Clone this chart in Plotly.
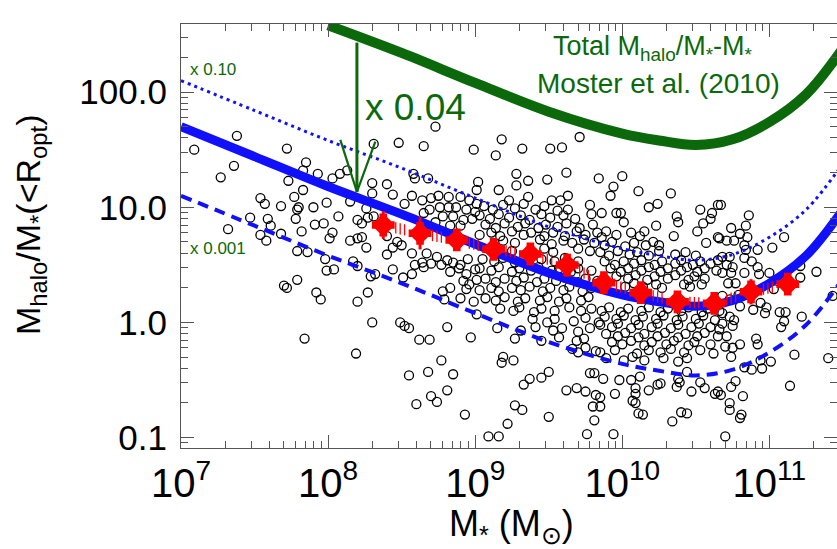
import plotly.graph_objects as go

# ---------------- data (log10 units) ----------------
# isolated galaxies: log10 M*  and log10 Mhalo/M*(<Ropt)
gal_logm = [
 7.09,7.38,7.27,7.36,7.72,7.85,7.83,7.93,8.03,8.08,8.13,7.73,7.83,7.77,7.54,7.57,7.68,7.80,7.79,7.90,
 7.99,8.15,7.47,7.59,7.61,7.32,7.78,7.82,7.91,7.97,8.07,8.20,7.54,7.58,7.68,8.03,8.01,8.15,8.20,7.79,
 7.86,7.98,8.17,8.20,7.99,8.04,7.79,7.70,7.72,7.92,7.95,8.20,7.84,8.19,
 8.73,8.31,8.48,8.65,8.99,8.58,8.59,8.68,8.30,8.40,8.30,8.44,8.57,8.52,9.02,9.01,8.26,8.27,8.23,
 8.64,8.70,8.75,8.82,8.90,8.96,9.01,8.76,8.82,8.87,8.94,9.00,8.69,8.78,8.85,8.92,8.98,8.65,8.73,8.90,8.83,8.31,
 8.23,8.26,8.40,8.47,8.44,8.50,8.40,8.57,8.67,8.74,8.81,8.70,8.77,8.85,8.90,8.95,8.64,8.65,8.83,8.89,
 8.57,8.59,8.44,8.29,8.32,8.51,8.94,9.00,8.92,8.96,9.01,8.78,8.83,8.94,8.79,8.90,8.99,9.01,8.27,8.30,
 8.49,8.52,8.55,8.81,8.62,8.69,8.97,8.77,8.55,8.68,8.85,8.70,8.81,8.74,8.60,8.93,
 9.18,9.32,9.14,9.51,9.59,9.71,9.28,9.28,9.36,9.49,9.62,9.84,9.16,9.36,9.52,9.58,9.63,9.63,9.23,
 9.19,9.26,9.18,9.33,9.37,9.45,9.50,9.62,9.69,9.75,9.78,9.81,9.82,9.27,9.32,9.50,9.80,9.81,9.22,9.09,9.16,9.76,
 10.00,9.94,9.92,10.11,10.33,10.18,10.24,9.96,9.99,10.01,9.86,10.37,10.38,10.53,10.61,10.60,10.65,10.55,
 10.23,10.35,10.51,10.57,10.25,10.65,
 9.87,9.98,10.06,10.12,10.38,10.44,9.95,10.09,10.09,10.07,10.09,10.18,10.24,10.26,10.37,10.39,10.53,10.56,
 10.63,10.65,10.47,9.85,9.85,10.11,10.14,10.40,10.44,10.34,9.94,
 10.67,10.86,10.74,10.84,10.80,10.85,11.10,10.66,10.71,10.76,10.83,10.84,10.92,11.02,10.68,10.73,10.83,
 10.88,10.71,10.75,10.92,10.68,10.74,10.83,10.93,11.00,11.21,11.21,11.32,10.72,10.77,11.03,11.43,10.68,
 10.73,10.79,10.94,10.98,10.97,10.89,10.80,11.07,11.11,11.10,11.08,11.22,10.68,10.73,10.76,10.68,10.75,
 10.66,10.71,10.70,10.75,10.80,10.74,10.91,10.92,11.17,11.40,11.01,10.94,10.95,10.83,10.88,11.14,10.77,
 10.74,10.67,10.82,10.73,10.73,10.81,10.80,10.70,
]
gal_logratio = [
 1.50,1.62,1.26,1.36,1.51,1.39,1.32,1.29,1.25,1.29,1.32,1.23,1.15,1.09,1.08,1.03,1.01,1.00,0.98,1.00,
 1.04,1.05,0.91,0.90,0.84,0.81,0.90,0.79,0.85,0.86,0.92,0.89,0.76,0.71,0.77,0.78,0.73,0.71,0.73,0.62,
 0.61,0.55,0.53,0.49,0.45,0.46,0.37,0.32,0.30,0.26,0.20,0.18,-0.14,-0.27,
 1.70,1.55,1.56,1.53,1.50,1.29,1.25,1.25,1.21,1.20,1.12,1.11,1.10,1.03,1.22,1.15,0.99,0.91,0.86,
 1.06,1.08,1.10,1.09,1.09,1.06,1.03,1.00,1.00,1.00,0.98,0.96,0.98,0.92,0.92,0.89,0.90,0.95,0.87,0.84,0.84,0.92,
 0.74,0.65,0.75,0.70,0.65,0.67,0.59,0.60,0.60,0.57,0.54,0.51,0.50,0.52,0.50,0.55,0.52,0.48,0.44,0.47,
 0.42,0.50,0.46,0.40,0.42,0.39,0.42,0.46,0.36,0.33,0.37,0.27,0.30,0.29,0.20,0.21,0.18,0.07,0.26,0.00,
 0.00,-0.03,-0.05,-0.04,-0.15,-0.15,-0.13,-0.33,-0.46,-0.43,-0.45,-0.64,-0.59,-0.69,-0.71,-0.80,
 1.59,1.51,1.45,1.51,1.52,1.61,1.29,1.19,1.23,1.24,1.30,1.25,1.15,1.09,1.06,1.06,1.10,0.98,1.06,
 -0.30,-0.33,-0.35,-0.54,-0.49,-0.48,-0.43,-0.59,-0.57,-0.60,-0.44,-0.44,-0.63,-0.72,-0.76,-0.82,-0.73,-0.85,-0.88,-0.99,-0.99,-0.97,
 1.27,1.18,1.10,1.14,1.12,1.00,1.03,0.95,0.95,0.87,0.95,0.92,0.87,0.98,0.95,0.90,1.02,0.86,
 0.84,0.75,0.79,0.69,0.67,0.74,
 -0.49,-0.50,-0.50,-0.47,-0.49,-0.43,-0.62,-0.57,-0.62,-0.68,-0.70,-0.59,-0.54,-0.53,-0.56,-0.52,-0.52,-0.57,
 -0.62,-0.60,-0.60,-0.65,-0.73,-0.79,-0.80,-0.78,-0.79,-0.86,-0.97,
 1.02,0.93,0.82,0.84,0.77,0.74,0.74,0.73,0.71,0.71,0.67,0.63,0.63,0.65,0.57,0.57,0.56,
 0.53,0.50,0.48,0.48,0.43,0.43,0.43,0.42,0.43,0.49,0.39,0.44,0.34,0.34,0.29,0.23,0.23,
 0.20,0.24,0.17,0.13,0.08,0.11,0.14,0.09,0.09,0.01,-0.04,0.05,0.08,0.05,0.02,-0.01,-0.03,
 -0.06,-0.12,-0.21,-0.22,-0.19,-0.30,-0.14,-0.19,-0.28,-0.31,-0.34,-0.33,-0.40,-0.39,-0.41,-0.55,-0.51,
 -0.56,-0.63,-0.64,-0.70,-0.76,-0.80,-0.83,-0.99,
]
# crowded part of the cloud, (log M*, log ratio) pairs read band by band
crowd_points = [
 (9.06,1.01),(9.12,0.98),(9.19,1.02),(9.27,0.99),(9.33,1.03),(9.41,0.98),(9.47,1.01),(9.56,0.97),(9.78,1.02),
 (9.03,0.93),(9.10,0.90),(9.16,0.94),(9.23,0.91),(9.31,0.93),(9.37,0.89),(9.45,0.94),(9.51,0.91),(9.60,0.93),(9.68,0.90),(9.79,0.94),
 (9.07,0.85),(9.14,0.82),(9.20,0.86),(9.29,0.83),(9.34,0.86),(9.43,0.82),(9.48,0.85),(9.56,0.83),(9.62,0.86),(9.71,0.82),(9.80,0.85),
 (9.03,0.76),(9.11,0.78),(9.17,0.75),(9.25,0.79),(9.33,0.76),(9.38,0.78),(9.47,0.75),(9.53,0.78),(9.61,0.75),(9.69,0.79),(9.75,0.76),
 (9.83,0.78),(9.86,0.74),(9.89,0.79),(9.96,0.76),(10.06,0.78),(10.12,0.75),(10.15,0.79),
 (9.19,0.71),(9.27,0.69),(9.44,0.72),(9.52,0.68),(9.60,0.71),(9.66,0.69),(9.74,0.72),(9.81,0.69),
 (9.88,0.67),(9.93,0.70),(10.02,0.66),(10.08,0.69),(10.16,0.67),(10.21,0.70),
 (9.25,0.62),(9.47,0.64),(9.53,0.61),(9.70,0.64),(9.78,0.62),
 (9.85,0.61),(9.91,0.58),(9.97,0.62),(10.05,0.59),(10.10,0.61),(10.18,0.58),(10.25,0.62),(10.36,0.59),(10.43,0.61),(10.50,0.58),
 (9.05,0.55),(9.13,0.53),(9.19,0.56),(9.27,0.52),(9.45,0.55),(9.54,0.53),(9.61,0.56),(9.70,0.53),
 (9.88,0.53),(9.95,0.50),(10.01,0.53),(10.08,0.51),(10.13,0.54),(10.22,0.50),(10.27,0.53),(10.36,0.51),(10.40,0.54),(10.48,0.50),
 (10.53,0.53),(10.60,0.51),(10.65,0.54),
 (9.03,0.47),(9.11,0.45),(9.16,0.48),(9.25,0.44),(9.30,0.47),(9.38,0.45),(9.43,0.48),(9.52,0.45),(9.57,0.47),(9.65,0.44),(9.70,0.47),
 (9.79,0.45),(9.92,0.47),(9.99,0.44),(10.04,0.47),(10.13,0.45),(10.18,0.48),(10.26,0.44),(10.31,0.47),(10.40,0.45),(10.44,0.48),
 (10.51,0.44),(10.56,0.47),(10.64,0.45),
 (9.96,0.40),(10.04,0.38),(10.09,0.41),(10.17,0.37),(10.22,0.40),(10.31,0.38),(10.36,0.41),(10.45,0.37),(10.49,0.40),(10.56,0.38),
 (9.07,0.38),(9.14,0.35),(9.20,0.38),(9.28,0.36),(9.33,0.39),(9.42,0.35),(9.47,0.38),(9.55,0.36),(9.61,0.39),(9.70,0.35),(9.75,0.38),(9.83,0.36),
 (10.02,0.31),(10.08,0.34),(10.14,0.31),(10.23,0.33),(10.27,0.30),(10.42,0.33),(10.46,0.31),(10.54,0.33),
 (9.03,0.28),(9.11,0.30),(9.16,0.27),(9.25,0.30),(9.31,0.28),(9.37,0.31),(9.46,0.27),(9.51,0.30),(9.60,0.28),(9.64,0.31),(9.73,0.27),(9.79,0.30),
 (9.07,0.21),(9.14,0.19),(9.20,0.22),(9.29,0.18),(9.34,0.21),(9.44,0.19),(9.49,0.22),(9.57,0.18),(9.62,0.21),(9.72,0.19),(9.77,0.22),
 (9.17,0.12),(9.26,0.10),(9.30,0.13),(9.40,0.09),(9.45,0.12),(9.54,0.10),(9.64,0.13),(9.72,0.10),(9.79,0.12),(9.86,0.10),(9.91,0.13),
 (9.99,0.09),(10.04,0.12),(10.13,0.10),(10.18,0.13),(10.26,0.09),(10.31,0.12),(10.40,0.10),(10.45,0.13),(10.54,0.09),(10.58,0.12),(10.66,0.10),
 (9.88,0.05),(9.96,0.03),(10.01,0.06),(10.09,0.02),(10.14,0.05),(10.23,0.03),(10.28,0.06),(10.37,0.02),(10.41,0.05),(10.50,0.03),(10.55,0.06),(10.63,0.02),
 (9.39,0.03),(9.49,0.00),(9.54,0.03),(9.67,0.01),(9.75,0.04),(9.84,0.00),
 (9.85,-0.02),(9.93,-0.04),(9.97,-0.01),(10.06,-0.05),(10.11,-0.02),(10.20,-0.04),(10.24,-0.01),(10.33,-0.05),(10.38,-0.02),(10.47,-0.04),(10.52,-0.01),(10.60,-0.04),
 (9.15,-0.05),(9.31,-0.07),(9.41,-0.04),(9.53,-0.07),(9.59,-0.05),(9.70,-0.08),(9.78,-0.05),
 (9.89,-0.10),(9.97,-0.12),(10.02,-0.09),(10.11,-0.13),(10.15,-0.10),(10.24,-0.12),(10.29,-0.09),(10.38,-0.13),(10.43,-0.10),(10.51,-0.12),(10.56,-0.09),(10.65,-0.12),
 (9.27,-0.14),(9.45,-0.16),(9.57,-0.13),(9.69,-0.16),(9.74,-0.14),
 (9.93,-0.17),(10.00,-0.19),(10.06,-0.16),(10.15,-0.20),(10.20,-0.17),(10.30,-0.19),(10.35,-0.16),(10.45,-0.20),(10.49,-0.17),(10.60,-0.19),
 (9.66,-0.23),(9.70,-0.26),(9.75,-0.22),(9.82,-0.25),
 (9.85,-0.26),(9.95,-0.24),(10.10,-0.27),(10.18,-0.24),(10.26,-0.26),(10.33,-0.23),(10.42,-0.26),(10.53,-0.24),(10.62,-0.27),
 (9.89,-0.31),(10.01,-0.33),(10.07,-0.30),(10.15,-0.33),(10.28,-0.31),(10.38,-0.34),(10.44,-0.31),
]

# binned medians (red) with vertical error extents
bin_logm = [8.375, 8.625, 8.875, 9.125, 9.375, 9.625, 9.875, 10.125, 10.375, 10.625, 10.875, 11.125]
bin_logratio = [0.846, 0.774, 0.716, 0.635, 0.594, 0.498, 0.346, 0.259, 0.179, 0.165, 0.266, 0.333]
bin_err = [0.12, 0.14, 0.06, 0.09, 0.06, 0.10, 0.06, 0.06, 0.05, 0.05, 0.11, 0.06]

# Moster et al. (2010) curve and its scaled copies
green_logm = [8.0, 8.5, 9.0, 9.5, 10.0, 10.25, 10.5, 10.75, 11.0, 11.25, 11.5]
green_logratio = [2.58, 2.34, 2.08, 1.83, 1.64, 1.58, 1.54, 1.59, 1.74, 1.98, 2.38]
scaled_logm = [7.0, 7.5, 8.0, 8.5, 9.0, 9.5, 10.0, 10.25, 10.5, 10.75, 11.0, 11.25, 11.5]
x004_logratio = [1.70, 1.44, 1.18, 0.94, 0.68, 0.43, 0.24, 0.18, 0.14, 0.19, 0.34, 0.58, 0.98]
x010_logratio = [2.10, 1.84, 1.58, 1.34, 1.08, 0.83, 0.64, 0.58, 0.54, 0.59, 0.74, 0.98, 1.38]
x001_logratio = [1.10, 0.84, 0.58, 0.34, 0.08, -0.17, -0.36, -0.42, -0.46, -0.41, -0.26, -0.02, 0.38]

# arrow "x 0.04"
arrow_logm = 8.196
arrow_top, arrow_tip = 2.43, 1.133
arrow_head = [(8.083, 1.585), (8.321, 1.570)]

x_ticks = [7, 8, 9, 10, 11]
y_ticks = [0.1, 1.0, 10.0, 100.0]
y_ticktext = ["0.1", "1.0", "10.0", "100.0"]

GREEN = "#0b690b"
BLUE = "#1010ff"
RED = "#ff0000"
FONT = "Liberation Sans, Arial, sans-serif"

# ---------------- build ----------------
px = [10 ** v for v in gal_logm] + [10 ** m for m, r in crowd_points]
py = [10 ** v for v in gal_logratio] + [10 ** r for m, r in crowd_points]

fig = go.Figure()
fig.add_trace(go.Scatter(x=px, y=py, mode="markers",
                         marker=dict(symbol="circle-open", size=9, color="black",
                                     line=dict(width=1.3, color="black")),
                         hoverinfo="skip"))

def curve(lm, lr, **kw):
    return go.Scatter(x=[10 ** v for v in lm], y=[10 ** v for v in lr], mode="lines",
                      line_shape="spline", hoverinfo="skip", **kw)

fig.add_trace(curve(scaled_logm, x010_logratio, line=dict(color=BLUE, width=3, dash="3px,4px")))
fig.add_trace(curve(scaled_logm, x001_logratio, line=dict(color=BLUE, width=4, dash="11px,7px")))
fig.add_trace(curve(scaled_logm, x004_logratio, line=dict(color=BLUE, width=9)))
fig.add_trace(curve(green_logm, green_logratio, line=dict(color=GREEN, width=10)))

# arrow
fig.add_trace(go.Scatter(x=[10 ** arrow_logm] * 2, y=[10 ** arrow_top, 10 ** arrow_tip],
                         mode="lines", line=dict(color=GREEN, width=3), hoverinfo="skip"))
for hx0, hy0 in arrow_head:
    fig.add_trace(go.Scatter(x=[10 ** hx0, 10 ** arrow_logm], y=[10 ** hy0, 10 ** arrow_tip],
                             mode="lines", line=dict(color=GREEN, width=2.2), hoverinfo="skip"))

# red hatch strokes following each bin
hx, hy = [], []
for i in range(len(bin_logm) - 1):
    slope = (bin_logratio[i + 1] - bin_logratio[i]) / (bin_logm[i + 1] - bin_logm[i])
    for d in (0.085, 0.115, 0.145):
        hx.append(10 ** (bin_logm[i] + d))
        hy.append(10 ** (bin_logratio[i] + slope * d))
fig.add_trace(go.Scatter(x=hx, y=hy, mode="markers",
                         marker=dict(symbol="line-ns", size=8, line=dict(color=RED, width=1.3)),
                         hoverinfo="skip"))

bx = [10 ** v for v in bin_logm]
by = [10 ** v for v in bin_logratio]
eplus = [10 ** (v + e) - 10 ** v for v, e in zip(bin_logratio, bin_err)]
eminus = [10 ** v - 10 ** (v - e) for v, e in zip(bin_logratio, bin_err)]
fig.add_trace(go.Scatter(x=bx, y=by, mode="markers",
                         marker=dict(symbol="octagon", size=18, color=RED, line=dict(width=0)),
                         error_y=dict(type="data", array=eplus, arrayminus=eminus, symmetric=False,
                                      color=RED, thickness=3, width=0),
                         hoverinfo="skip"))
fig.add_trace(go.Scatter(x=bx, y=by, mode="markers",
                         marker=dict(symbol="cross", size=19, color=RED, line=dict(width=0)),
                         hoverinfo="skip"))

# minor tick positions
x_minor = [m * 10 ** e for e in range(7, 12) for m in range(2, 10)]
y_minor = [m * 10 ** e for e in range(-2, 3) for m in range(2, 10)]

axis_common = dict(type="log", showgrid=False, zeroline=False, showline=True, automargin=False,
                   linecolor="#555555", linewidth=1.2, mirror="allticks",
                   ticks="inside", tickcolor="#555555", tickwidth=1.2, ticklen=13)

fig.update_xaxes(range=[7.0, 7 + 656 / 147.1],
                 tickvals=[10 ** v for v in x_ticks],
                 ticktext=[f"10<sup>{v}</sup>" for v in x_ticks],
                 tickfont=dict(family=FONT, size=40, color="black"),
                 minor=dict(tickvals=x_minor, ticks="inside", ticklen=7, tickcolor="#555555", tickwidth=1.2),
                 **axis_common)
fig.update_yaxes(range=[-1.0904, 2.5913],
                 tickvals=y_ticks, ticktext=y_ticktext,
                 tickfont=dict(family=FONT, size=35, color="black"),
                 ticklabelstandoff=6,
                 minor=dict(tickvals=y_minor, ticks="inside", ticklen=7, tickcolor="#555555", tickwidth=1.2),
                 **axis_common)

ann = []
ann.append(dict(xref="x", yref="y", x=8.239, y=1.863, xanchor="left", yanchor="middle",
                text="x 0.04", showarrow=False, font=dict(family=FONT, size=37, color=GREEN)))
ann.append(dict(xref="x", yref="y", x=7.05, y=2.194, xanchor="left", yanchor="middle",
                text="x 0.10", showarrow=False, font=dict(family=FONT, size=17, color=GREEN)))
ann.append(dict(xref="x", yref="y", x=7.05, y=0.646, xanchor="left", yanchor="middle",
                text="x 0.001", showarrow=False, font=dict(family=FONT, size=17, color=GREEN)))
ann.append(dict(xref="x", yref="y", x=10.21, y=2.385, xanchor="center", yanchor="middle",
                text="Total M<sub>halo</sub>/M<sub>*</sub>-M<sub>*</sub>", showarrow=False,
                font=dict(family=FONT, size=27, color=GREEN)))
ann.append(dict(xref="x", yref="y", x=10.246, y=2.072, xanchor="center", yanchor="middle",
                text="Moster et al. (2010)", showarrow=False,
                font=dict(family=FONT, size=28, color=GREEN)))
# axis titles
ann.append(dict(xref="paper", yref="paper", x=(30 - 181) / 656, y=1 - (225 - 24) / 424,
                xanchor="center", yanchor="middle", textangle=-90,
                text="M<sub>halo</sub>/M<sub>*</sub>(&lt;R<sub>opt</sub>)", showarrow=False,
                font=dict(family=FONT, size=34, color="black")))
ann.append(dict(xref="paper", yref="paper", x=(512 - 181) / 656, y=1 - (502 - 24) / 424,
                xanchor="center", yanchor="top", borderpad=0,
                text="M<sub>*</sub> (M<sub>⊙</sub>)", showarrow=False,
                font=dict(family=FONT, size=36, color="black")))

fig.update_layout(width=837, height=549, margin=dict(l=181, r=0, t=24, b=101),
                  paper_bgcolor="white", plot_bgcolor="white", showlegend=False,
                  annotations=ann)

fig.write_html("out.html", config={"displayModeBar": False},
               post_script="document.body.style.margin='0px';")
